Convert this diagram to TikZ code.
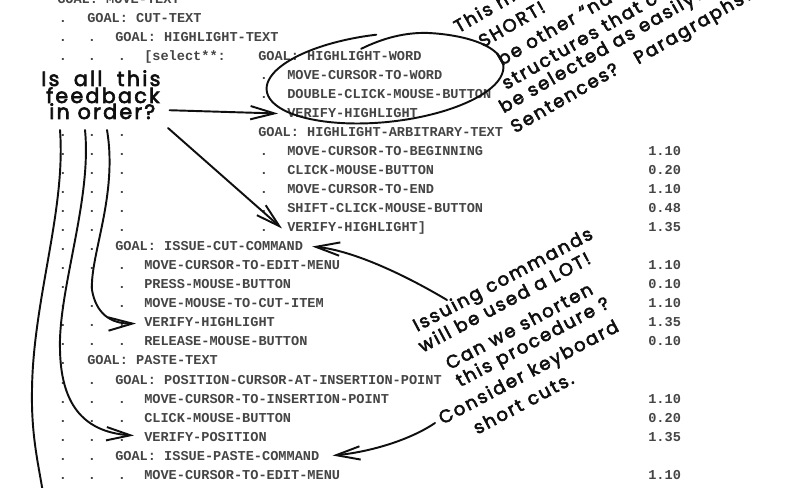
\documentclass[tikz,border=0pt]{standalone}
\usepackage{fontspec}
\newfontfamily\typefont{Liberation Mono}
\newfontfamily\handfont{Poppins}[LetterSpace=11, FakeBold=3]
\usetikzlibrary{arrows.meta, calc, positioning}
\definecolor{typegray}{gray}{0.27}
\definecolor{penink}{gray}{0.06}

\begin{document}
\begin{tikzpicture}[x=0.75pt, y=-0.75pt,
 row/.style={anchor=base west, inner sep=0pt, text=typegray, font=\typefont\bfseries\fontsize{10.2}{12}\selectfont},
 dotc/.style={row, anchor=base},
 note/.style={anchor=base west, inner sep=0pt, text=penink, font=\handfont\fontsize{13.5}{15}\selectfont},
 bignote/.style={note, font=\handfont\fontsize{15.5}{18}\selectfont},
 hand/.style={draw=penink, line width=1.45pt, line cap=round, line join=round},
 arr/.style={hand, -{Straight Barb[length=18pt, width=10pt]}}]
 \fill[white] (0,0) rectangle (800,488);
 \useasboundingbox (0,0) rectangle (800,488);
 \clip (0,0) rectangle (800,488);
 % the listing
 \foreach \i/\x/\txt in {0/57/{GOAL: MOVE-TEXT}, 1/87/{GOAL: CUT-TEXT}, 2/115/{GOAL: HIGHLIGHT-TEXT},
 3/258/{GOAL: HIGHLIGHT-WORD}, 4/287/{MOVE-CURSOR-TO-WORD}, 5/287/{DOUBLE-CLICK-MOUSE-BUTTON},
 6/287/{VERIFY-HIGHLIGHT}, 7/258/{GOAL: HIGHLIGHT-ARBITRARY-TEXT}, 8/287/{MOVE-CURSOR-TO-BEGINNING},
 9/287/{CLICK-MOUSE-BUTTON}, 10/287/{MOVE-CURSOR-TO-END}, 11/287/{SHIFT-CLICK-MOUSE-BUTTON},
 12/287/{VERIFY-HIGHLIGHT]}, 13/115/{GOAL: ISSUE-CUT-COMMAND}, 14/144/{MOVE-CURSOR-TO-EDIT-MENU},
 15/144/{PRESS-MOUSE-BUTTON}, 16/144/{MOVE-MOUSE-TO-CUT-ITEM}, 17/144/{VERIFY-HIGHLIGHT},
 18/144/{RELEASE-MOUSE-BUTTON}, 19/87/{GOAL: PASTE-TEXT}, 20/115/{GOAL: POSITION-CURSOR-AT-INSERTION-POINT},
 21/144/{MOVE-CURSOR-TO-INSERTION-POINT}, 22/144/{CLICK-MOUSE-BUTTON}, 23/144/{VERIFY-POSITION},
 24/115/{GOAL: ISSUE-PASTE-COMMAND}, 25/144/{MOVE-CURSOR-TO-EDIT-MENU}}
 \node[row] (r\i) at (\x,{19*\i+4}) {\txt};
 \node[row] (sel) at (144,61) {[select**:};
 \foreach \r in {3,7,8,9,10,11,12,14,15,16,17,18,21,22,23,25}
 {\foreach \c in {63,92,122} \node[dotc] (dot\r x\c) at (\c,{19*\r+4}) {.};}
 \foreach \r in {2,13,20,24}
 {\foreach \c in {63,92} \node[dotc] (dot\r x\c) at (\c,{19*\r+4}) {.};}
 \foreach \r in {1,19} \node[dotc] (dot\r x63) at (63,{19*\r+4}) {.};
 \foreach \r in {4,5,6,8,9,10,11,12} \node[dotc] (dot\r x264) at (264,{19*\r+4}) {.};
 \foreach \r/\val in {8/1.10, 9/0.20, 10/1.10, 11/0.48, 12/1.35, 14/1.10, 15/0.10, 16/1.10,
 17/1.35, 18/0.10, 21/1.10, 22/0.20, 23/1.35, 25/1.10}
 \node[row] (t\r) at (648,{19*\r+4}) {\val};
 % handwritten notes
 \foreach \k/\px/\py/\txt in {a/41/86/{Is\hspace{5pt} all\hspace{5pt} this}, b/46/103/feedback, c/49/119/{in order?}}
 \node[bignote] (n1\k) at (\px,\py) {\txt};
 \begin{scope}[shift={(483,48)}, rotate=30, transform shape]
 \foreach \k/\px/\py/\txt in {a/-14/-25/{This m}, b/0/0/{SHORT!}, c/7/25/{be other “na},
 d/-1/48/{structures that c}, e/-15/67/{be selected as easily?}, f/-15/90/{Sentences?},
 g/126/92/{Paragraphs?}}
 \node[note] (n2\k) at (\px,\py) {\txt};
 \end{scope}
 \begin{scope}[shift={(417,332)}, rotate=28, transform shape]
 \foreach \k/\px/\py/\txt in {a/0/0/{Issuing commands}, b/-5/21/{will be used a LOT!},
 c/11/49/{Can we shorten}, d/12/69/{this procedure ?}, e/-21/94/{Consider keyboard},
 f/5/119/{short cuts.}}
 \node[note] (n3\k) at (\px,\py) {\txt};
 \end{scope}
 % pen strokes
 \coordinate (fbk) at (168,128);
 \coordinate (c1s) at (107,130);
 \coordinate (c2s) at (85,130);
 \coordinate (c3s) at (60,130);
 \coordinate (c3e) at (44,500);
 \coordinate (cutq) at (447,300);
 \coordinate (pasteq) at (435,423);
 \draw[hand, rotate around={6:(385,78)}] plot[smooth, samples=90, domain=100:-268]
 ({385+119*cos(\x)}, {78-(44-12*(max(\x-64,0)/36)^2)*sin(\x)});
 \draw[arr] ($(n1c.east)+(14,-1)$) -- ($(r6.west)+(-9,0)$);
 \draw[arr] (fbk) -- ($(r12.west)+(-5,0)$);
 \draw[arr] (c1s) .. controls (118,195) and (90,255) .. (92,290)
 .. controls (96,313) and (110,324) .. ($(r17.west)+(-8,1)$);
 \draw[arr] (c2s) .. controls (92,200) and (58,290) .. (60,350)
 .. controls (61,400) and (80,432) .. ($(r23.west)+(-10,-1)$);
 \draw[hand] (c3s) .. controls (66,210) and (33,300) .. (32,390)
 .. controls (31,440) and (40,470) .. (c3e);
 \draw[arr] (cutq) .. controls (400,272) and (350,250) .. ($(r13.east)+(9,0)$);
 \draw[arr] (pasteq) .. controls (410,440) and (370,452) .. ($(r24.east)+(13,0)$);
\end{tikzpicture}
\end{document}
